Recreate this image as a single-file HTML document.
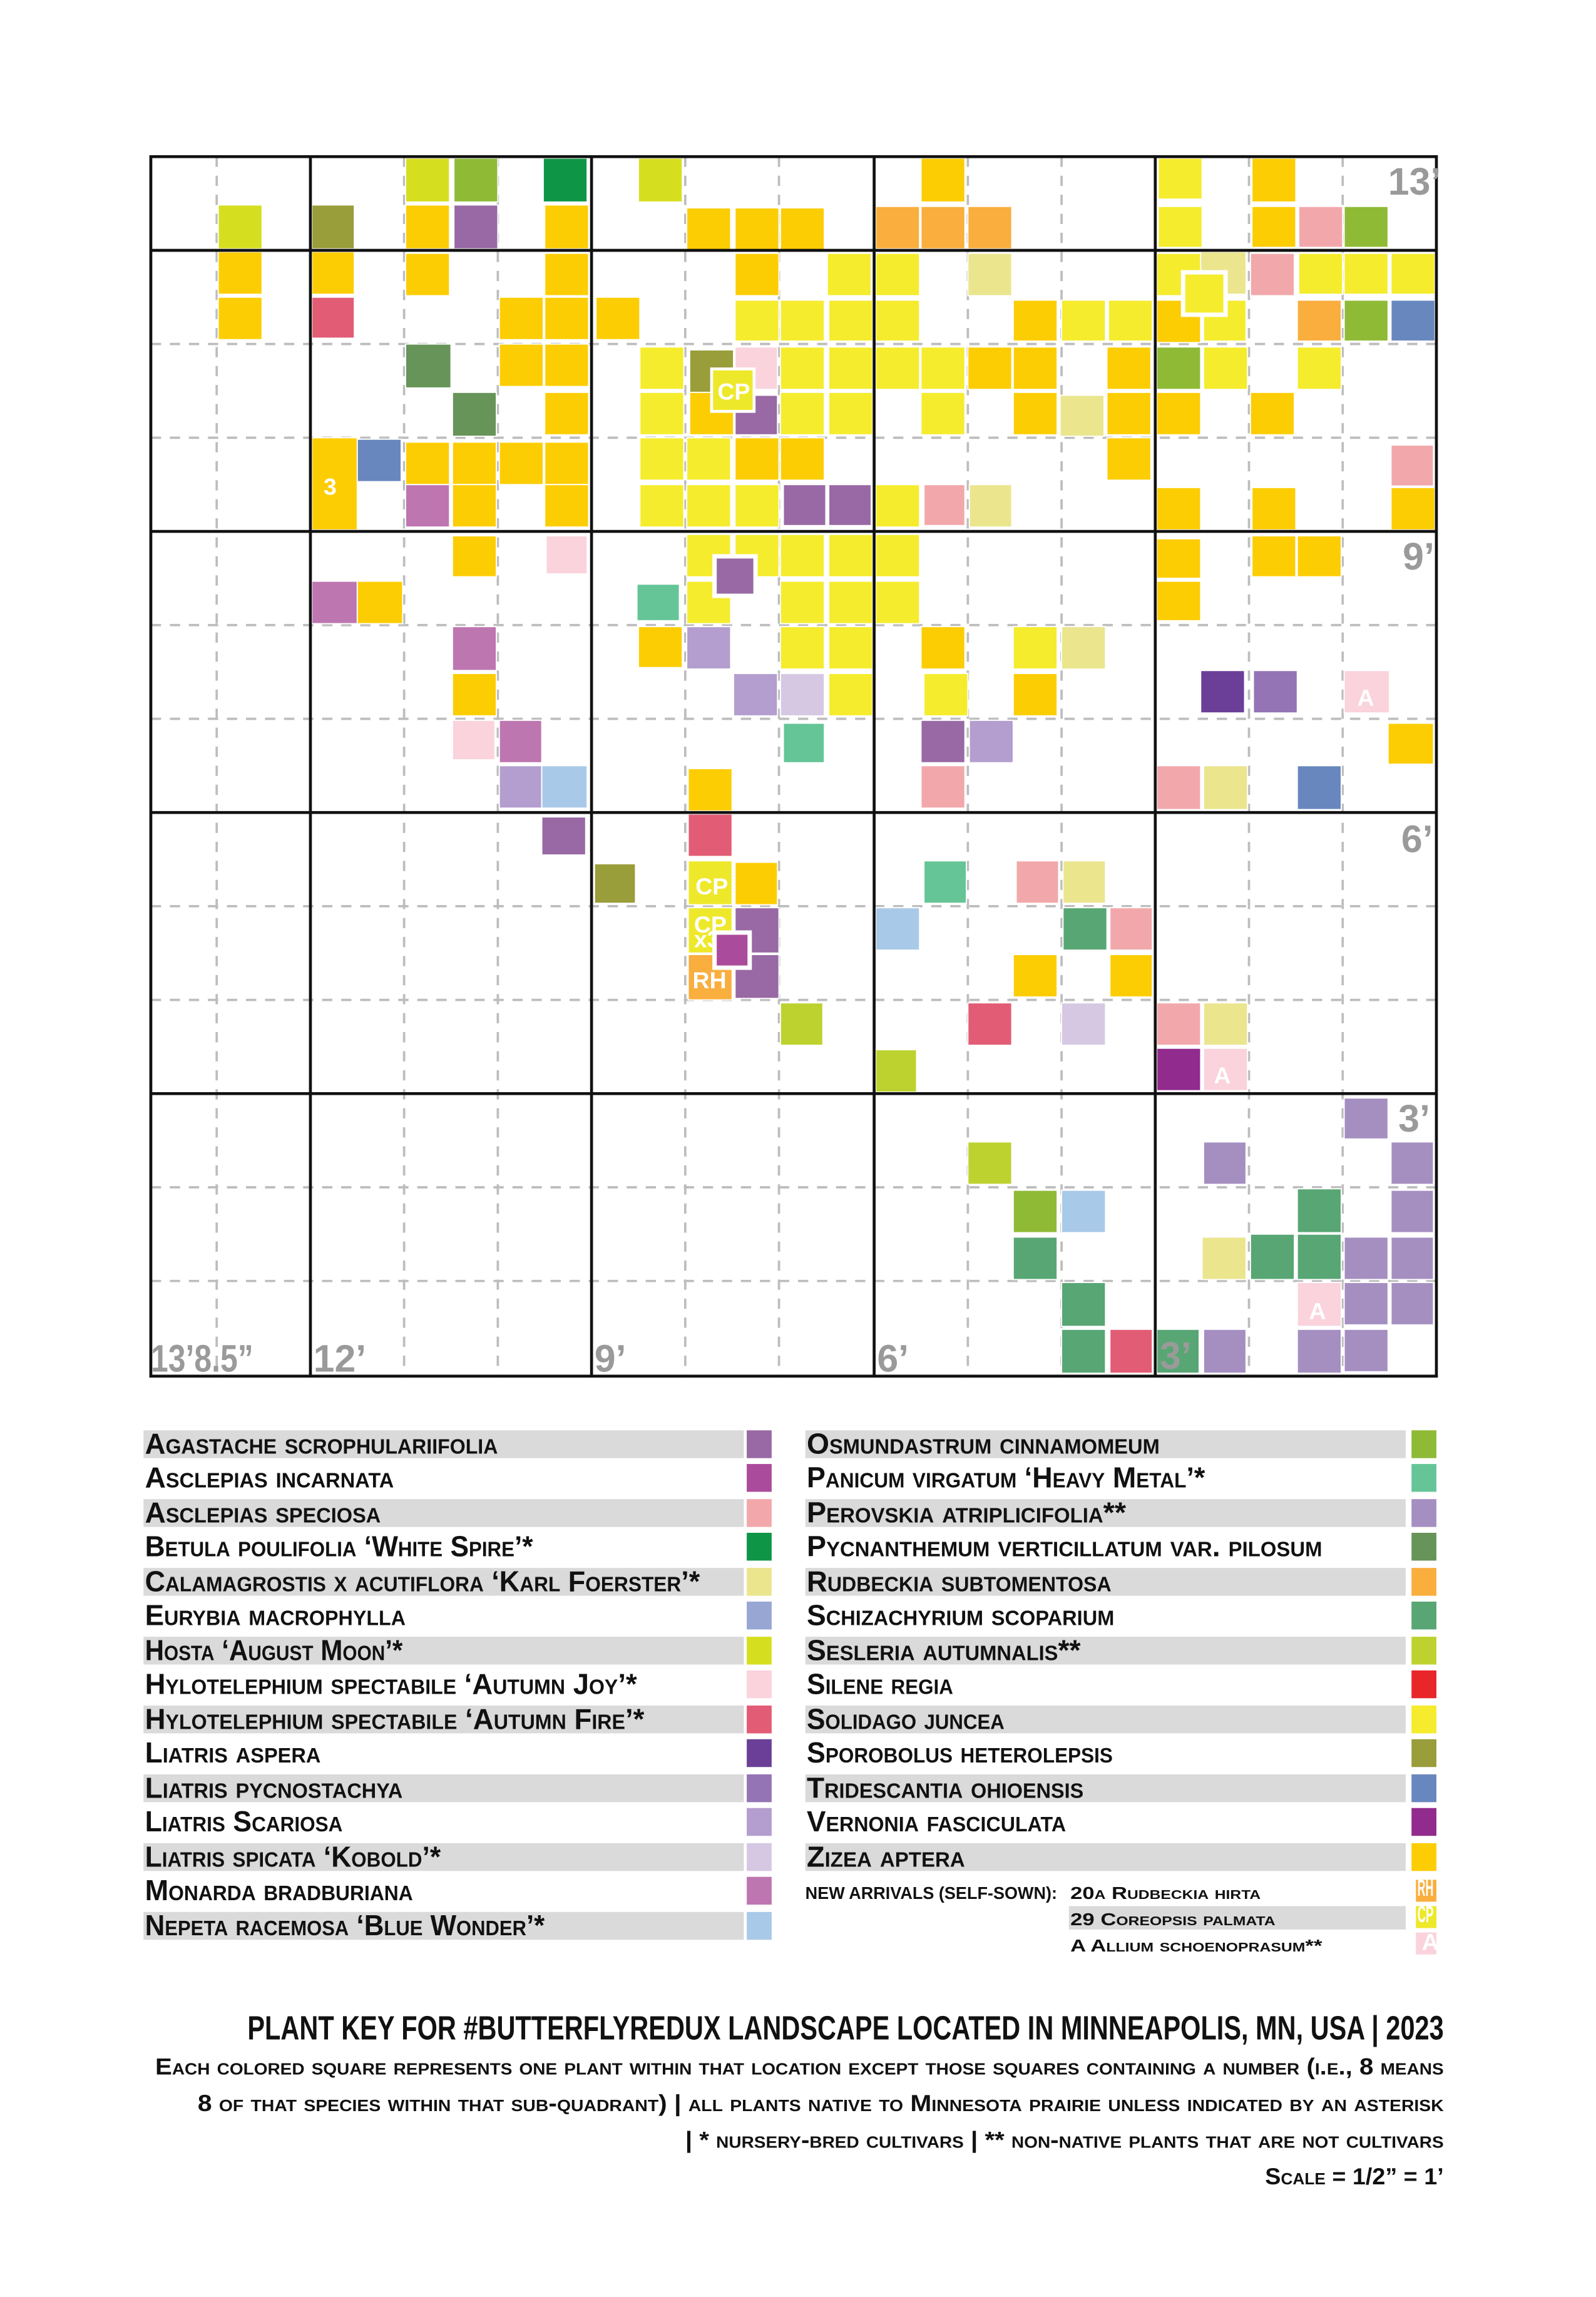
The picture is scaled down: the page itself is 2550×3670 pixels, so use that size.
<!DOCTYPE html>
<html><head><meta charset="utf-8"><style>
html,body{margin:0;padding:0;background:#fff;}
svg{display:block;}
text{font-family:"Liberation Sans Narrow","Liberation Sans","DejaVu Sans Condensed",sans-serif;font-weight:bold;}
.lg{font-size:20px;font-variant:small-caps;fill:#111;}
.ax{font-size:26px;fill:#9a9a9a;}
.w{fill:#fff;font-size:16px;}
</style></head><body>
<svg width="2550" height="3670" viewBox="0 0 1090 1569" preserveAspectRatio="none" xmlns="http://www.w3.org/2000/svg">
<rect width="1090" height="1569" fill="#fff"/>
<g stroke="#bdbdbd" stroke-width="1.6" stroke-dasharray="7,6">
<line x1="148" y1="107" x2="148" y2="940"/><line x1="276" y1="107" x2="276" y2="940"/><line x1="340" y1="107" x2="340" y2="940"/>
<line x1="468" y1="107" x2="468" y2="940"/><line x1="532" y1="107" x2="532" y2="940"/><line x1="661" y1="107" x2="661" y2="940"/>
<line x1="725" y1="107" x2="725" y2="940"/><line x1="853" y1="107" x2="853" y2="940"/><line x1="917" y1="107" x2="917" y2="940"/>
<line x1="103" y1="235" x2="981" y2="235"/><line x1="103" y1="299" x2="981" y2="299"/><line x1="103" y1="427" x2="981" y2="427"/>
<line x1="103" y1="491" x2="981" y2="491"/><line x1="103" y1="619" x2="981" y2="619"/><line x1="103" y1="683" x2="981" y2="683"/>
<line x1="103" y1="811" x2="981" y2="811"/><line x1="103" y1="875" x2="981" y2="875"/>
</g>
<g stroke="#fff" stroke-width="0.8">
<rect x="149" y="140" width="30" height="30" fill="#d6df1f"/>
<rect x="213" y="140" width="29" height="30" fill="#999d3a"/>
<rect x="277" y="108" width="30" height="30" fill="#d6df1f"/>
<rect x="310" y="108" width="30" height="30" fill="#8fba36"/>
<rect x="371" y="108" width="30" height="30" fill="#0e9646"/>
<rect x="277" y="140" width="30" height="30" fill="#fdcd04"/>
<rect x="310" y="140" width="30" height="30" fill="#9869a4"/>
<rect x="372" y="140" width="30" height="30" fill="#fdcd04"/>
<rect x="436" y="108" width="30" height="30" fill="#d6df1f"/>
<rect x="469" y="142" width="30" height="29" fill="#fdcd04"/>
<rect x="502" y="142" width="30" height="29" fill="#fdcd04"/>
<rect x="533" y="142" width="30" height="29" fill="#fdcd04"/>
<rect x="629" y="108" width="30" height="30" fill="#fdcd04"/>
<rect x="598" y="141" width="30" height="29" fill="#f9ae3e"/>
<rect x="629" y="141" width="30" height="29" fill="#f9ae3e"/>
<rect x="661" y="141" width="30" height="29" fill="#f9ae3e"/>
<rect x="791" y="108" width="30" height="28" fill="#f5ec2d"/>
<rect x="855" y="108" width="30" height="30" fill="#fdcd04"/>
<rect x="791" y="141" width="30" height="28" fill="#f5ec2d"/>
<rect x="855" y="141" width="30" height="28" fill="#fdcd04"/>
<rect x="887" y="141" width="30" height="28" fill="#f2a8ab"/>
<rect x="918" y="141" width="30" height="28" fill="#8fba36"/>
<rect x="149" y="172" width="30" height="29" fill="#fdcd04"/>
<rect x="149" y="203" width="30" height="29" fill="#fdcd04"/>
<rect x="213" y="172" width="29" height="29" fill="#fdcd04"/>
<rect x="213" y="203" width="29" height="28" fill="#e25c75"/>
<rect x="277" y="173" width="30" height="29" fill="#fdcd04"/>
<rect x="372" y="173" width="30" height="29" fill="#fdcd04"/>
<rect x="341" y="203" width="30" height="29" fill="#fdcd04"/>
<rect x="372" y="203" width="30" height="29" fill="#fdcd04"/>
<rect x="407" y="203" width="30" height="29" fill="#fdcd04"/>
<rect x="502" y="173" width="30" height="29" fill="#fdcd04"/>
<rect x="565" y="173" width="30" height="29" fill="#f5ec2d"/>
<rect x="502" y="205" width="30" height="28" fill="#f5ec2d"/>
<rect x="533" y="205" width="30" height="28" fill="#f5ec2d"/>
<rect x="566" y="205" width="30" height="28" fill="#f5ec2d"/>
<rect x="598" y="173" width="30" height="29" fill="#f5ec2d"/>
<rect x="598" y="205" width="30" height="28" fill="#f5ec2d"/>
<rect x="661" y="173" width="30" height="29" fill="#ebe58e"/>
<rect x="692" y="205" width="30" height="28" fill="#fdcd04"/>
<rect x="725" y="205" width="30" height="28" fill="#f5ec2d"/>
<rect x="757" y="205" width="30" height="28" fill="#f5ec2d"/>
<rect x="790" y="173" width="30" height="29" fill="#f5ec2d"/>
<rect x="820" y="172" width="31" height="29" fill="#ebe58e"/>
<rect x="854" y="173" width="30" height="29" fill="#f2a8ab"/>
<rect x="887" y="173" width="30" height="28" fill="#f5ec2d"/>
<rect x="918" y="173" width="30" height="28" fill="#f5ec2d"/>
<rect x="950" y="173" width="30" height="28" fill="#f5ec2d"/>
<rect x="790" y="205" width="30" height="29" fill="#fdcd04"/>
<rect x="822" y="205" width="29" height="28" fill="#f5ec2d"/>
<rect x="886" y="205" width="30" height="28" fill="#f9ae3e"/>
<rect x="918" y="205" width="30" height="28" fill="#8fba36"/>
<rect x="950" y="205" width="30" height="28" fill="#6887bf"/>
<rect x="808" y="186" width="29" height="29" fill="#f5ec2d" stroke-width="3"/>
<rect x="277" y="235" width="31" height="30" fill="#679459"/>
<rect x="341" y="235" width="30" height="29" fill="#fdcd04"/>
<rect x="372" y="235" width="30" height="29" fill="#fdcd04"/>
<rect x="309" y="268" width="30" height="30" fill="#679459"/>
<rect x="372" y="268" width="30" height="29" fill="#fdcd04"/>
<rect x="437" y="237" width="30" height="29" fill="#f5ec2d"/>
<rect x="471" y="239" width="30" height="29" fill="#999d3a"/>
<rect x="502" y="237" width="29" height="29" fill="#fad3dc"/>
<rect x="533" y="237" width="30" height="29" fill="#f5ec2d"/>
<rect x="566" y="237" width="30" height="29" fill="#f5ec2d"/>
<rect x="437" y="268" width="30" height="29" fill="#f5ec2d"/>
<rect x="471" y="268" width="30" height="29" fill="#fdcd04"/>
<rect x="502" y="270" width="29" height="27" fill="#9869a4"/>
<rect x="533" y="268" width="30" height="29" fill="#f5ec2d"/>
<rect x="566" y="268" width="30" height="29" fill="#f5ec2d"/>
<rect x="486" y="252" width="29" height="29" fill="#eee82a" stroke-width="2"/>
<rect x="598" y="237" width="30" height="29" fill="#f5ec2d"/>
<rect x="629" y="237" width="30" height="29" fill="#f5ec2d"/>
<rect x="661" y="237" width="30" height="29" fill="#fdcd04"/>
<rect x="692" y="237" width="30" height="29" fill="#fdcd04"/>
<rect x="756" y="237" width="30" height="29" fill="#fdcd04"/>
<rect x="629" y="268" width="30" height="29" fill="#f5ec2d"/>
<rect x="692" y="268" width="30" height="29" fill="#fdcd04"/>
<rect x="724" y="270" width="30" height="28" fill="#ebe58e"/>
<rect x="756" y="268" width="30" height="29" fill="#fdcd04"/>
<rect x="790" y="237" width="30" height="29" fill="#8fba36"/>
<rect x="822" y="237" width="30" height="29" fill="#f5ec2d"/>
<rect x="886" y="237" width="30" height="29" fill="#f5ec2d"/>
<rect x="790" y="268" width="30" height="29" fill="#fdcd04"/>
<rect x="854" y="268" width="30" height="29" fill="#fdcd04"/>
<rect x="213" y="299" width="31" height="63" fill="#fdcd04"/>
<rect x="244" y="300" width="30" height="29" fill="#6887bf"/>
<rect x="277" y="302" width="30" height="29" fill="#fdcd04"/>
<rect x="309" y="302" width="30" height="29" fill="#fdcd04"/>
<rect x="341" y="302" width="30" height="29" fill="#fdcd04"/>
<rect x="372" y="302" width="30" height="29" fill="#fdcd04"/>
<rect x="277" y="331" width="30" height="29" fill="#be76b0"/>
<rect x="309" y="331" width="30" height="29" fill="#fdcd04"/>
<rect x="372" y="331" width="30" height="29" fill="#fdcd04"/>
<rect x="437" y="299" width="30" height="29" fill="#f5ec2d"/>
<rect x="469" y="299" width="30" height="29" fill="#f5ec2d"/>
<rect x="502" y="299" width="30" height="29" fill="#fdcd04"/>
<rect x="533" y="299" width="30" height="29" fill="#fdcd04"/>
<rect x="437" y="331" width="30" height="29" fill="#f5ec2d"/>
<rect x="469" y="331" width="30" height="29" fill="#f5ec2d"/>
<rect x="502" y="331" width="30" height="29" fill="#f5ec2d"/>
<rect x="535" y="331" width="29" height="28" fill="#9869a4"/>
<rect x="566" y="331" width="29" height="28" fill="#9869a4"/>
<rect x="756" y="299" width="30" height="29" fill="#fdcd04"/>
<rect x="598" y="331" width="30" height="29" fill="#f5ec2d"/>
<rect x="631" y="331" width="28" height="28" fill="#f2a8ab"/>
<rect x="662" y="331" width="29" height="29" fill="#ebe58e"/>
<rect x="950" y="304" width="29" height="28" fill="#f2a8ab"/>
<rect x="790" y="333" width="30" height="29" fill="#fdcd04"/>
<rect x="855" y="333" width="30" height="29" fill="#fdcd04"/>
<rect x="950" y="333" width="30" height="29" fill="#fdcd04"/>
<rect x="309" y="366" width="30" height="28" fill="#fdcd04"/>
<rect x="373" y="366" width="28" height="26" fill="#fad3dc"/>
<rect x="213" y="397" width="31" height="29" fill="#be76b0"/>
<rect x="244" y="397" width="31" height="29" fill="#fdcd04"/>
<rect x="469" y="365" width="30" height="29" fill="#f5ec2d"/>
<rect x="502" y="365" width="30" height="29" fill="#f5ec2d"/>
<rect x="533" y="365" width="30" height="29" fill="#f5ec2d"/>
<rect x="566" y="365" width="30" height="29" fill="#f5ec2d"/>
<rect x="598" y="365" width="30" height="29" fill="#f5ec2d"/>
<rect x="435" y="399" width="29" height="25" fill="#65c596"/>
<rect x="469" y="397" width="30" height="29" fill="#f5ec2d"/>
<rect x="533" y="397" width="30" height="29" fill="#f5ec2d"/>
<rect x="566" y="397" width="30" height="29" fill="#f5ec2d"/>
<rect x="598" y="397" width="30" height="29" fill="#f5ec2d"/>
<rect x="488" y="380" width="28" height="27" fill="#9869a4" stroke-width="3"/>
<rect x="790" y="368" width="30" height="27" fill="#fdcd04"/>
<rect x="855" y="366" width="30" height="28" fill="#fdcd04"/>
<rect x="886" y="366" width="30" height="28" fill="#fdcd04"/>
<rect x="790" y="397" width="30" height="27" fill="#fdcd04"/>
<rect x="309" y="428" width="30" height="30" fill="#be76b0"/>
<rect x="309" y="460" width="30" height="29" fill="#fdcd04"/>
<rect x="436" y="428" width="30" height="28" fill="#fdcd04"/>
<rect x="469" y="428" width="30" height="29" fill="#b39ecf"/>
<rect x="533" y="428" width="30" height="29" fill="#f5ec2d"/>
<rect x="566" y="428" width="30" height="29" fill="#f5ec2d"/>
<rect x="501" y="460" width="30" height="29" fill="#b39ecf"/>
<rect x="533" y="460" width="30" height="29" fill="#d6c8e3"/>
<rect x="566" y="460" width="30" height="29" fill="#f5ec2d"/>
<rect x="629" y="428" width="30" height="29" fill="#fdcd04"/>
<rect x="692" y="428" width="30" height="29" fill="#f5ec2d"/>
<rect x="725" y="428" width="30" height="29" fill="#ebe58e"/>
<rect x="631" y="460" width="30" height="29" fill="#f5ec2d"/>
<rect x="692" y="460" width="30" height="29" fill="#fdcd04"/>
<rect x="820" y="458" width="30" height="29" fill="#6b3f98"/>
<rect x="856" y="458" width="30" height="29" fill="#9474b5"/>
<rect x="918" y="458" width="31" height="29" fill="#fad3dc"/>
<rect x="309" y="492" width="29" height="27" fill="#fad3dc"/>
<rect x="341" y="492" width="29" height="29" fill="#be76b0"/>
<rect x="341" y="523" width="29" height="29" fill="#b39ecf"/>
<rect x="370" y="523" width="31" height="29" fill="#a9c9e8"/>
<rect x="535" y="494" width="28" height="27" fill="#65c596"/>
<rect x="470" y="525" width="30" height="29" fill="#fdcd04"/>
<rect x="629" y="492" width="30" height="29" fill="#9869a4"/>
<rect x="662" y="492" width="30" height="29" fill="#b39ecf"/>
<rect x="629" y="523" width="30" height="29" fill="#f2a8ab"/>
<rect x="948" y="494" width="31" height="28" fill="#fdcd04"/>
<rect x="790" y="523" width="30" height="30" fill="#f2a8ab"/>
<rect x="822" y="523" width="30" height="30" fill="#ebe58e"/>
<rect x="886" y="523" width="30" height="30" fill="#6887bf"/>
<rect x="370" y="558" width="30" height="26" fill="#9869a4"/>
<rect x="470" y="556" width="30" height="29" fill="#e25c75"/>
<rect x="406" y="590" width="28" height="27" fill="#999d3a"/>
<rect x="470" y="588" width="30" height="30" fill="#eee82a"/>
<rect x="502" y="589" width="29" height="29" fill="#fdcd04"/>
<rect x="631" y="588" width="29" height="29" fill="#65c596"/>
<rect x="694" y="588" width="29" height="29" fill="#f2a8ab"/>
<rect x="726" y="588" width="29" height="29" fill="#ebe58e"/>
<rect x="470" y="620" width="30" height="31" fill="#eee82a"/>
<rect x="502" y="620" width="30" height="31" fill="#9869a4"/>
<rect x="470" y="652" width="30" height="31" fill="#f9ae3e"/>
<rect x="502" y="652" width="30" height="30" fill="#9869a4"/>
<rect x="598" y="620" width="30" height="29" fill="#a9c9e8"/>
<rect x="726" y="620" width="30" height="29" fill="#58a674"/>
<rect x="758" y="620" width="29" height="29" fill="#f2a8ab"/>
<rect x="692" y="652" width="30" height="29" fill="#fdcd04"/>
<rect x="758" y="652" width="29" height="29" fill="#fdcd04"/>
<rect x="533" y="685" width="29" height="29" fill="#bed22f"/>
<rect x="661" y="685" width="30" height="29" fill="#e25c75"/>
<rect x="725" y="685" width="30" height="29" fill="#d6c8e3"/>
<rect x="598" y="717" width="28" height="29" fill="#bed22f"/>
<rect x="790" y="685" width="30" height="29" fill="#f2a8ab"/>
<rect x="822" y="685" width="30" height="29" fill="#ebe58e"/>
<rect x="790" y="716" width="30" height="29" fill="#922b8e"/>
<rect x="822" y="716" width="30" height="29" fill="#fad3dc"/>
<rect x="918" y="750" width="30" height="28" fill="#a58fc1"/>
<rect x="661" y="780" width="30" height="29" fill="#bed22f"/>
<rect x="822" y="780" width="29" height="29" fill="#a58fc1"/>
<rect x="950" y="780" width="29" height="29" fill="#a58fc1"/>
<rect x="692" y="813" width="30" height="29" fill="#8fba36"/>
<rect x="725" y="813" width="30" height="29" fill="#a9c9e8"/>
<rect x="886" y="812" width="30" height="30" fill="#58a674"/>
<rect x="950" y="813" width="29" height="29" fill="#a58fc1"/>
<rect x="692" y="845" width="30" height="29" fill="#58a674"/>
<rect x="821" y="845" width="30" height="29" fill="#ebe58e"/>
<rect x="854" y="843" width="30" height="31" fill="#58a674"/>
<rect x="886" y="843" width="30" height="31" fill="#58a674"/>
<rect x="918" y="845" width="30" height="29" fill="#a58fc1"/>
<rect x="950" y="845" width="29" height="29" fill="#a58fc1"/>
<rect x="725" y="876" width="30" height="30" fill="#58a674"/>
<rect x="886" y="876" width="30" height="30" fill="#fad3dc"/>
<rect x="918" y="876" width="30" height="29" fill="#a58fc1"/>
<rect x="950" y="876" width="29" height="29" fill="#a58fc1"/>
<rect x="725" y="908" width="30" height="30" fill="#58a674"/>
<rect x="758" y="908" width="29" height="30" fill="#e25c75"/>
<rect x="790" y="908" width="29" height="30" fill="#58a674"/>
<rect x="822" y="908" width="29" height="30" fill="#a58fc1"/>
<rect x="886" y="908" width="30" height="30" fill="#a58fc1"/>
<rect x="918" y="908" width="30" height="29" fill="#a58fc1"/>
</g>
<text class="w" x="221" y="338" font-size="20">3</text>
<text class="w" x="490" y="273">CP</text>
<text class="w" x="475" y="611">CP</text>
<text class="w" x="474" y="637" font-size="14">CP</text>
<text class="w" x="474" y="647" font-size="7">x3</text>
<rect x="488" y="637" width="24" height="24" fill="#ab4b9b" stroke="#fff" stroke-width="3"/>
<text class="w" x="473" y="675">RH</text>
<text class="w" x="927" y="482" font-size="18">A</text>
<text class="w" x="829" y="740" font-size="18">A</text>
<text class="w" x="894" y="901" font-size="18">A</text>
<g stroke="#111" stroke-width="2" fill="none">
<rect x="103" y="107" width="878" height="833"/>
<line x1="212" y1="107" x2="212" y2="940"/><line x1="404" y1="107" x2="404" y2="940"/>
<line x1="597" y1="107" x2="597" y2="940"/><line x1="789" y1="107" x2="789" y2="940"/>
<line x1="103" y1="171" x2="981" y2="171"/><line x1="103" y1="363" x2="981" y2="363"/>
<line x1="103" y1="555" x2="981" y2="555"/><line x1="103" y1="747" x2="981" y2="747"/>
</g>
<text class="ax" x="948" y="133">13’</text>
<text class="ax" x="958" y="389">9’</text>
<text class="ax" x="957" y="582">6’</text>
<text class="ax" x="955" y="773">3’</text>
<text class="ax" x="103" y="937" textLength="70" lengthAdjust="spacingAndGlyphs">13’8.5”</text>
<text class="ax" x="214" y="937">12’</text>
<text class="ax" x="406" y="937">9’</text>
<text class="ax" x="599" y="937">6’</text>
<text class="ax" x="792" y="935">3’</text>
<g fill="#dadada">
<rect x="98" y="977" width="410" height="19"/><rect x="98" y="1024" width="410" height="19"/>
<rect x="98" y="1071" width="410" height="19"/><rect x="98" y="1118" width="410" height="19"/>
<rect x="98" y="1165" width="410" height="19"/><rect x="98" y="1212" width="410" height="19"/>
<rect x="98" y="1259" width="410" height="19"/><rect x="98" y="1306" width="410" height="19"/>
<rect x="550" y="977" width="410" height="19"/><rect x="550" y="1024" width="410" height="19"/>
<rect x="550" y="1071" width="410" height="19"/><rect x="550" y="1118" width="410" height="19"/>
<rect x="550" y="1165" width="410" height="19"/><rect x="550" y="1212" width="410" height="19"/>
<rect x="550" y="1259" width="410" height="19"/>
<rect x="730" y="1302" width="230" height="16"/>
</g>
<g>
<rect x="510" y="977" width="17" height="19" fill="#9869a4"/>
<rect x="510" y="1000" width="17" height="19" fill="#ab4b9b"/>
<rect x="510" y="1024" width="17" height="19" fill="#f2a8ab"/>
<rect x="510" y="1047" width="17" height="19" fill="#0e9646"/>
<rect x="510" y="1071" width="17" height="19" fill="#ebe58e"/>
<rect x="510" y="1094" width="17" height="19" fill="#97a6d3"/>
<rect x="510" y="1118" width="17" height="19" fill="#d6df1f"/>
<rect x="510" y="1141" width="17" height="19" fill="#fad3dc"/>
<rect x="510" y="1165" width="17" height="19" fill="#e25c75"/>
<rect x="510" y="1188" width="17" height="19" fill="#6b3f98"/>
<rect x="510" y="1212" width="17" height="19" fill="#9474b5"/>
<rect x="510" y="1235" width="17" height="19" fill="#b39ecf"/>
<rect x="510" y="1259" width="17" height="19" fill="#d6c8e3"/>
<rect x="510" y="1282" width="17" height="19" fill="#be76b0"/>
<rect x="510" y="1306" width="17" height="19" fill="#a9c9e8"/>
<rect x="964" y="977" width="17" height="19" fill="#8fba36"/>
<rect x="964" y="1000" width="17" height="19" fill="#65c596"/>
<rect x="964" y="1024" width="17" height="19" fill="#a58fc1"/>
<rect x="964" y="1047" width="17" height="19" fill="#679459"/>
<rect x="964" y="1071" width="17" height="19" fill="#f9ae3e"/>
<rect x="964" y="1094" width="17" height="19" fill="#58a674"/>
<rect x="964" y="1118" width="17" height="19" fill="#bed22f"/>
<rect x="964" y="1141" width="17" height="19" fill="#e8262a"/>
<rect x="964" y="1165" width="17" height="19" fill="#f5ec2d"/>
<rect x="964" y="1188" width="17" height="19" fill="#999d3a"/>
<rect x="964" y="1212" width="17" height="19" fill="#6887bf"/>
<rect x="964" y="1235" width="17" height="19" fill="#922b8e"/>
<rect x="964" y="1259" width="17" height="19" fill="#fdcd04"/>
<rect x="967" y="1284" width="14" height="15" fill="#f9ae3e"/>
<rect x="967" y="1302" width="14" height="15" fill="#eee82a"/>
<rect x="967" y="1320" width="14" height="15" fill="#fad3dc"/>
</g>
<text class="w" x="968" y="1295" font-size="7" textLength="11" lengthAdjust="spacingAndGlyphs">RH</text>
<text class="w" x="968" y="1313" font-size="7" textLength="11" lengthAdjust="spacingAndGlyphs">CP</text>
<text class="w" x="971" y="1332" font-size="9">A</text>
<g class="lg">
<text x="99" y="993" textLength="241" lengthAdjust="spacingAndGlyphs">Agastache scrophulariifolia</text>
<text x="99" y="1016" textLength="170" lengthAdjust="spacingAndGlyphs">Asclepias incarnata</text>
<text x="99" y="1040" textLength="161" lengthAdjust="spacingAndGlyphs">Asclepias speciosa</text>
<text x="99" y="1063" textLength="265" lengthAdjust="spacingAndGlyphs">Betula poulifolia ‘White Spire’*</text>
<text x="99" y="1087" textLength="379" lengthAdjust="spacingAndGlyphs">Calamagrostis x acutiflora ‘Karl Foerster’*</text>
<text x="99" y="1110" textLength="178" lengthAdjust="spacingAndGlyphs">Eurybia macrophylla</text>
<text x="99" y="1134" textLength="176" lengthAdjust="spacingAndGlyphs">Hosta ‘August Moon’*</text>
<text x="99" y="1157" textLength="336" lengthAdjust="spacingAndGlyphs">Hylotelephium spectabile ‘Autumn Joy’*</text>
<text x="99" y="1181" textLength="341" lengthAdjust="spacingAndGlyphs">Hylotelephium spectabile ‘Autumn Fire’*</text>
<text x="99" y="1204" textLength="120" lengthAdjust="spacingAndGlyphs">Liatris aspera</text>
<text x="99" y="1228" textLength="176" lengthAdjust="spacingAndGlyphs">Liatris pycnostachya</text>
<text x="99" y="1251" textLength="135" lengthAdjust="spacingAndGlyphs">Liatris Scariosa</text>
<text x="99" y="1275" textLength="202" lengthAdjust="spacingAndGlyphs">Liatris spicata ‘Kobold’*</text>
<text x="99" y="1298" textLength="183" lengthAdjust="spacingAndGlyphs">Monarda bradburiana</text>
<text x="99" y="1322" textLength="273" lengthAdjust="spacingAndGlyphs">Nepeta racemosa ‘Blue Wonder’*</text>
<text x="551" y="993" textLength="241" lengthAdjust="spacingAndGlyphs">Osmundastrum cinnamomeum</text>
<text x="551" y="1016" textLength="272" lengthAdjust="spacingAndGlyphs">Panicum virgatum ‘Heavy Metal’*</text>
<text x="551" y="1040" textLength="218" lengthAdjust="spacingAndGlyphs">Perovskia atriplicifolia**</text>
<text x="551" y="1063" textLength="352" lengthAdjust="spacingAndGlyphs">Pycnanthemum verticillatum var. pilosum</text>
<text x="551" y="1087" textLength="208" lengthAdjust="spacingAndGlyphs">Rudbeckia subtomentosa</text>
<text x="551" y="1110" textLength="210" lengthAdjust="spacingAndGlyphs">Schizachyrium scoparium</text>
<text x="551" y="1134" textLength="187" lengthAdjust="spacingAndGlyphs">Sesleria autumnalis**</text>
<text x="551" y="1157" textLength="100" lengthAdjust="spacingAndGlyphs">Silene regia</text>
<text x="551" y="1181" textLength="135" lengthAdjust="spacingAndGlyphs">Solidago juncea</text>
<text x="551" y="1204" textLength="209" lengthAdjust="spacingAndGlyphs">Sporobolus heterolepsis</text>
<text x="551" y="1228" textLength="189" lengthAdjust="spacingAndGlyphs">Tridescantia ohioensis</text>
<text x="551" y="1251" textLength="177" lengthAdjust="spacingAndGlyphs">Vernonia fasciculata</text>
<text x="551" y="1275" textLength="108" lengthAdjust="spacingAndGlyphs">Zizea aptera</text>
</g>
<g class="lg" style="font-size:12px">
<text x="550" y="1297" textLength="172" lengthAdjust="spacingAndGlyphs">NEW ARRIVALS (SELF-SOWN):</text>
<text x="731" y="1297" textLength="130" lengthAdjust="spacingAndGlyphs">20a Rudbeckia hirta</text>
<text x="731" y="1315" textLength="140" lengthAdjust="spacingAndGlyphs">29 Coreopsis palmata</text>
<text x="731" y="1333" textLength="172" lengthAdjust="spacingAndGlyphs">A Allium schoenoprasum**</text>
</g>
<g class="lg" text-anchor="end">
<text x="986" y="1393" style="font-size:23px;font-variant:normal" textLength="817" lengthAdjust="spacingAndGlyphs">PLANT KEY FOR #BUTTERFLYREDUX LANDSCAPE LOCATED IN MINNEAPOLIS, MN, USA | 2023</text>
<text x="986" y="1417" style="font-size:16px" textLength="880" lengthAdjust="spacingAndGlyphs">Each colored square represents one plant within that location except those squares containing a number (i.e., 8 means</text>
<text x="986" y="1442" style="font-size:16px" textLength="851" lengthAdjust="spacingAndGlyphs">8 of that species within that sub-quadrant) | all plants native to Minnesota prairie unless indicated by an asterisk</text>
<text x="986" y="1467" style="font-size:16px" textLength="518" lengthAdjust="spacingAndGlyphs">| * nursery-bred cultivars | ** non-native plants that are not cultivars</text>
<text x="986" y="1492" style="font-size:16px" textLength="122" lengthAdjust="spacingAndGlyphs">Scale = 1/2” = 1’</text>
</g>
</svg>
</body></html>
